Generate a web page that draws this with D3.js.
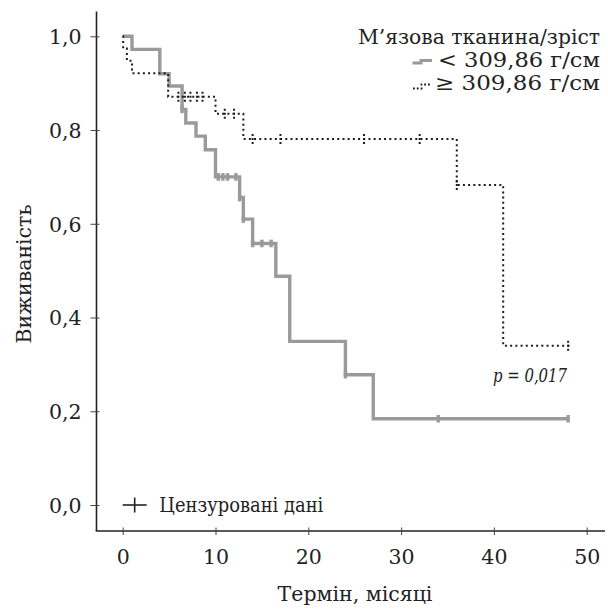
<!DOCTYPE html>
<html>
<head>
<meta charset="utf-8">
<script src="https://cdn.jsdelivr.net/npm/d3@7"></script>
<style>
  html, body { margin: 0; padding: 0; background: #fff; }
  svg { display: block; }
  text { font-family: "DejaVu Serif", "Liberation Serif", serif; fill: #222; }
</style>
</head>
<body>
<svg id="chart" width="608" height="610"></svg>
<script>
// ---- data ----
const xTicks = [0, 10, 20, 30, 40, 50];
const yTicks = [0, 0.2, 0.4, 0.6, 0.8, 1.0];

const lowLabel = "< 309,86 г/см";
const lowTimes = [0, 1.0, 4.0, 5.0, 6.4, 6.8, 7.9, 8.9, 10.0, 12.6, 13.0, 14.0, 16.5, 18.0, 24.0, 27.0];
const lowSurv  = [1.0, 0.972, 0.920, 0.894, 0.844, 0.815, 0.787, 0.758, 0.700, 0.656, 0.610, 0.558, 0.488, 0.349, 0.278, 0.184];
const lowEnd = 48.0;
const lowCensor = [6.4, 10.3, 10.8, 11.3, 12.2, 12.6, 13.0, 14.0, 15.0, 16.0, 24.0, 34.0, 48.0];

const highLabel = "≥ 309,86 г/см";
const highTimes = [0, 0.05, 0.45, 1.0, 4.9, 10.0, 13.0, 36.0, 41.0];
const highSurv  = [1.0, 0.974, 0.948, 0.921, 0.871, 0.835, 0.781, 0.683, 0.340];
const highEnd = 48.3;
const highCensor = [6.0, 6.7, 7.3, 8.0, 8.6, 11.0, 12.0, 14.0, 17.0, 26.0, 32.0, 36.0, 48.0];

const legendTitle = "М’язова тканина/зріст";
const censorLabel = "Цензуровані дані";
const pText = "p = 0,017";
const xTitle = "Термін, місяці";
const yTitle = "Виживаність";

// ---- chart ----
const svg = d3.select("#chart");
const x = d3.scaleLinear().domain([0, 50]).range([122.7, 586.7]);
const y = d3.scaleLinear().domain([0, 1]).range([505, 36.3]);
const axisX0 = 96.5, axisY0 = 531;
const fmt = d => d3.format(".1f")(d).replace(".", ",");

// axis lines
svg.append("line").attr("x1", axisX0).attr("x2", axisX0).attr("y1", 11.5).attr("y2", axisY0)
  .attr("stroke", "#222").attr("stroke-width", 1.6);
svg.append("line").attr("x1", axisX0 - 0.8).attr("x2", 605).attr("y1", axisY0).attr("y2", axisY0)
  .attr("stroke", "#222").attr("stroke-width", 1.6);

// x axis ticks
const gx = svg.append("g").attr("transform", `translate(0,${axisY0})`)
  .call(d3.axisBottom(x).tickValues(xTicks).tickSize(0).tickPadding(0).tickFormat(d3.format("d")));
gx.select(".domain").remove();
gx.selectAll(".tick line").attr("y1", -3.5).attr("y2", 4).attr("stroke", "#444").attr("stroke-width", 1);
gx.selectAll(".tick text").attr("y", 33).attr("dy", 0)
  .style("font-size", "20.5px").style("font-family", "DejaVu Serif").attr("fill", "#222");

// y axis ticks
const gy = svg.append("g").attr("transform", `translate(${axisX0},0)`)
  .call(d3.axisLeft(y).tickValues(yTicks).tickSize(0).tickPadding(0).tickFormat(fmt));
gy.select(".domain").remove();
gy.selectAll(".tick line").attr("x1", -6).attr("x2", 3).attr("stroke", "#444").attr("stroke-width", 1);
gy.selectAll(".tick text").attr("x", -15).attr("dy", "0.36em")
  .style("font-size", "20.5px").style("font-family", "DejaVu Serif").attr("fill", "#222");

// step curves
const stepLine = d3.line().x(d => x(d[0])).y(d => y(d[1])).curve(d3.curveStepAfter);
function pts(times, surv, end) {
  const p = times.map((t, i) => [t, surv[i]]);
  p.push([end, surv[surv.length - 1]]);
  return p;
}
function survAt(times, surv, t) {
  let v = surv[0];
  for (let i = 0; i < times.length; i++) if (times[i] <= t + 1e-9) v = surv[i];
  return v;
}

const grey = "#9a9a9a";
svg.append("path").datum(pts(lowTimes, lowSurv, lowEnd))
  .attr("d", stepLine).attr("fill", "none").attr("stroke", grey).attr("stroke-width", 3.4)
  .attr("stroke-linejoin", "miter");
svg.append("g").selectAll("line").data(lowCensor).join("line")
  .attr("x1", d => x(d)).attr("x2", d => x(d))
  .attr("y1", d => y(survAt(lowTimes, lowSurv, d)) - 3.8)
  .attr("y2", d => y(survAt(lowTimes, lowSurv, d)) + 3.8)
  .attr("stroke", grey).attr("stroke-width", 3.4);

const dash = "2,3.2";
svg.append("path").datum(pts(highTimes, highSurv, highEnd))
  .attr("d", stepLine).attr("fill", "none").attr("stroke", "#1c1c1c").attr("stroke-width", 2)
  .attr("stroke-dasharray", dash);
svg.append("g").selectAll("line").data(highCensor).join("line")
  .attr("x1", d => x(d)).attr("x2", d => x(d))
  .attr("y1", d => y(survAt(highTimes, highSurv, d)) - 5)
  .attr("y2", d => y(survAt(highTimes, highSurv, d)) + 5)
  .attr("stroke", "#1c1c1c").attr("stroke-width", 2).attr("stroke-dasharray", "2,2");

// legend
svg.append("text").attr("x", 600).attr("y", 43.5).attr("text-anchor", "end")
  .attr("textLength", 242).attr("lengthAdjust", "spacingAndGlyphs")
  .style("font-size", "20.5px").text(legendTitle);
svg.append("text").attr("x", 600).attr("y", 67).attr("text-anchor", "end")
  .attr("textLength", 162).attr("lengthAdjust", "spacingAndGlyphs")
  .style("font-size", "20.5px").text(lowLabel);
svg.append("text").attr("x", 600).attr("y", 90).attr("text-anchor", "end")
  .attr("textLength", 165).attr("lengthAdjust", "spacingAndGlyphs")
  .style("font-size", "20.5px").text(highLabel);
svg.append("path").attr("d", "M412.5,63 H421 V60.5 H432").attr("fill", "none")
  .attr("stroke", grey).attr("stroke-width", 3);
svg.append("path").attr("d", "M413,88.5 H421.5 V84.5 H431").attr("fill", "none")
  .attr("stroke", "#1c1c1c").attr("stroke-width", 1.8).attr("stroke-dasharray", "1.8,2");

// censored legend
svg.append("line").attr("x1", 122.7).attr("x2", 146.7).attr("y1", 505).attr("y2", 505)
  .attr("stroke", "#222").attr("stroke-width", 1.6);
svg.append("line").attr("x1", 134.7).attr("x2", 134.7).attr("y1", 497.5).attr("y2", 512.5)
  .attr("stroke", "#222").attr("stroke-width", 1.6);
svg.append("text").attr("x", 159.3).attr("y", 512)
  .attr("textLength", 164).attr("lengthAdjust", "spacingAndGlyphs")
  .style("font-size", "19.5px").text(censorLabel);

// p value
svg.append("text").attr("x", 567).attr("y", 382).attr("text-anchor", "end")
  .attr("textLength", 74).attr("lengthAdjust", "spacingAndGlyphs")
  .style("font-size", "18.5px").style("font-style", "italic").text(pText);

// axis titles
svg.append("text").attr("x", 355).attr("y", 601).attr("text-anchor", "middle")
  .style("font-size", "20.5px").text(xTitle);
svg.append("text").attr("transform", "translate(31,274) rotate(-90)").attr("text-anchor", "middle")
  .style("font-size", "20.5px").text(yTitle);
</script>
</body>
</html>
